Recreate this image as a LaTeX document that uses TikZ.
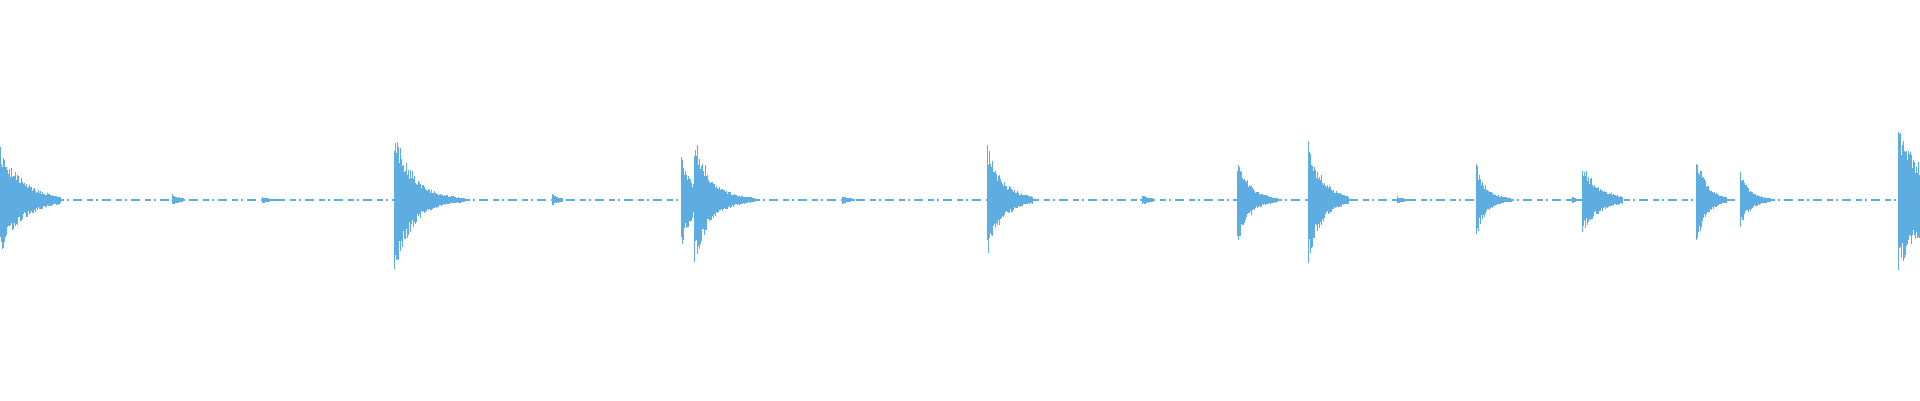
\documentclass[tikz,border=0pt]{standalone}
\definecolor{wave}{HTML}{5DADE2}
\newcommand\burst[4]{%
  \foreach \i in {0,...,#4}{%
    \pgfmathsetmacro\at{#2*exp(-\i/#3)*(0.6+0.4*rnd)+0.8}%
    \pgfmathsetmacro\ab{#2*exp(-\i/#3)*(0.6+0.4*rnd)+0.8}%
    \fill[wave] (#1+\i,200-\at) rectangle (#1+\i+1.05,200+\ab);
  }}
\begin{document}
\begin{tikzpicture}[x=1pt,y=-1pt]
\useasboundingbox[fill=white] (0,0) rectangle (1920,400);
\pgfmathsetseed{7}
\draw[wave,line width=1.3pt,dash pattern=on 6pt off 3pt on 2pt off 4pt on 9pt off 5pt] (0,200) -- (1920,200);
\burst{0}{55}{22}{60}
\burst{172}{5}{6}{12}
\burst{262}{3}{6}{15}
\burst{394}{76}{18}{70}
\burst{552}{5}{6}{10}
\burst{681}{48}{12}{12}
\burst{694}{68}{16}{60}
\burst{842}{4}{6}{12}
\burst{987}{59}{15}{45}
\burst{1142}{5}{6}{12}
\burst{1237}{45}{12}{40}
\burst{1308}{62}{14}{40}
\burst{1397}{3}{6}{12}
\burst{1476}{37}{10}{35}
\burst{1572}{3}{3}{8}
\burst{1582}{37}{16}{40}
\burst{1696}{47}{10}{30}
\burst{1740}{27}{10}{30}
\burst{1898}{75}{30}{21}
\end{tikzpicture}
\end{document}
